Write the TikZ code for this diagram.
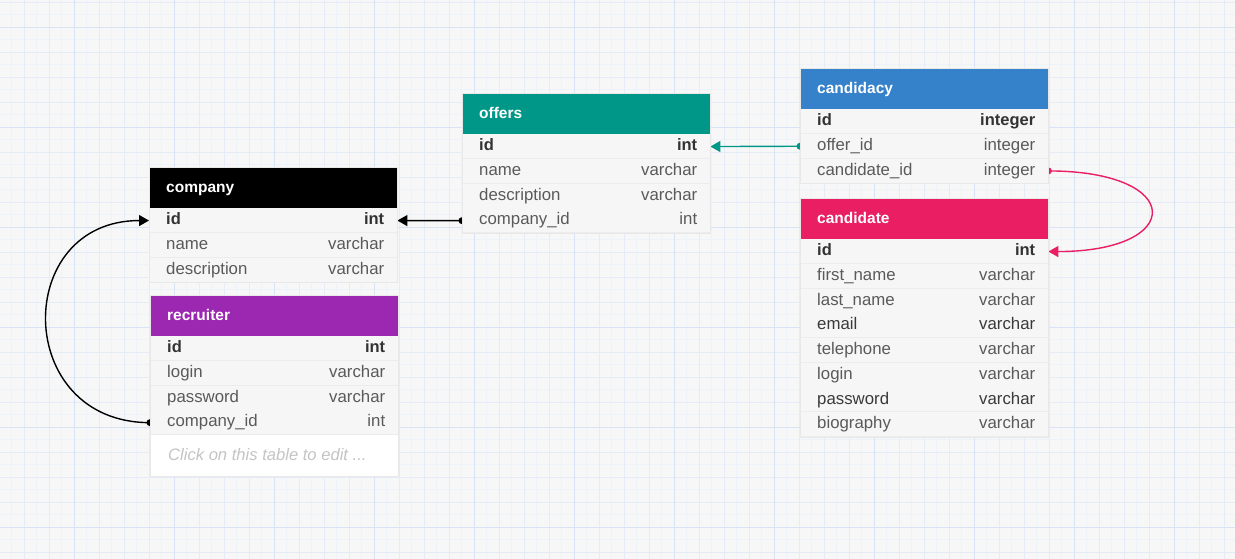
\documentclass[tikz,border=0pt]{standalone}
\usepackage{fontspec}
\setmainfont{Liberation Sans}
\usetikzlibrary{arrows.meta}
\pgfdeclarelayer{gridlayer}
\pgfdeclarelayer{linklayer}
\pgfsetlayers{gridlayer,linklayer,main}
\definecolor{canvas}{HTML}{F7F7F7}
\definecolor{gridfaint}{HTML}{EEF2F9}
\definecolor{gridmid}{HTML}{E5EBF7}
\definecolor{gridmajor}{HTML}{D8E3F6}
\definecolor{rowbg}{HTML}{F6F6F6}
\definecolor{sepcol}{HTML}{ECECEC}
\definecolor{bordercol}{HTML}{E8E8E8}
\definecolor{fieldcol}{HTML}{5A5A5A}
\definecolor{keycol}{HTML}{333333}
\definecolor{darkfield}{HTML}{3A3A3A}
\definecolor{hintcol}{HTML}{C4C4C4}
\definecolor{teal}{HTML}{009688}
\definecolor{purplehdr}{HTML}{9C27B0}
\definecolor{bluehdr}{HTML}{3581CA}
\definecolor{pinkhdr}{HTML}{E91E63}

\newcommand{\erhead}[5]{% id, x, y, colour, title
  \node[hdr, fill=#4] (#1) at (#2,#3) {#5};
}
\newcommand{\errow}[6]{% id, x, y, field, type, text style
  \node[rowbox] (#1) at (#2,#3) {};
  \draw[sep] ([yshift=0.5pt]#1.south west) -- ([yshift=0.5pt]#1.south east);
  \node[fld, #6, anchor=west] (#1-f) at ([xshift=17pt]#1.west) {#4};
  \node[fld, #6, anchor=east] (#1-t) at ([xshift=-13pt]#1.east) {#5};
}

\begin{document}
\begin{tikzpicture}[x=1pt,y=-1pt,
  hdr/.style={rectangle, anchor=north west, inner ysep=0pt, inner xsep=17pt,
    text width=214pt, align=left, minimum height=41pt, text=white,
    text height=12pt, text depth=2pt,
    font=\bfseries\fontsize{15.5}{18}\selectfont},
  rowbox/.style={rectangle, anchor=north west, inner sep=0pt,
    minimum width=248pt, minimum height=24.7pt, fill=rowbg},
  sep/.style={sepcol, line width=0.8pt},
  fld/.style={inner sep=0pt, text height=12pt, text depth=3.5pt,
    font=\fontsize{16.8}{20}\selectfont},
  plain/.style={text=fieldcol},
  dark/.style={text=darkfield},
  key/.style={text=keycol, font=\bfseries\fontsize{16.5}{20}\selectfont},
  tblborder/.style={draw=bordercol, line width=0.6pt},
  lnk/.style={line width=1.4pt, -{Triangle[length=10pt,width=11pt]}},
  taildot/.style={radius=3.5pt}
]
\useasboundingbox (0,0) rectangle (1235,559);

% ---------- grid ----------
\begin{pgfonlayer}{gridlayer}
\fill[canvas] (0,0) rectangle (1235,559);
\foreach \i in {0,...,98}
  \draw[gridfaint, line width=0.8pt] ({11.5+12.5*\i},0) -- ({11.5+12.5*\i},559);
\foreach \i in {0,...,44}
  \draw[gridfaint, line width=0.8pt] (0,{2+12.5*\i}) -- (1235,{2+12.5*\i});
\foreach \i in {0,...,49}
  \draw[gridmid, line width=0.8pt] ({24+25*\i},0) -- ({24+25*\i},559);
\foreach \i in {0,...,22}
  \draw[gridmid, line width=0.8pt] (0,{2+25*\i}) -- (1235,{2+25*\i});
\foreach \i in {0,...,11}
  \draw[gridmajor, line width=0.9pt] ({74+100*\i},0) -- ({74+100*\i},559);
\foreach \i in {0,...,5}
  \draw[gridmajor, line width=0.9pt] (0,{27+100*\i}) -- (1235,{27+100*\i});
\end{pgfonlayer}

% ---------- company ----------
\erhead{company}{149}{167}{black}{company}
\errow{company-id}{149}{208}{id}{int}{key}
\errow{company-name}{149}{232.7}{name}{varchar}{plain}
\errow{company-desc}{149}{257.4}{description}{varchar}{plain}
\draw[tblborder] (company.north west) rectangle (company-desc.south east);

% ---------- recruiter ----------
\erhead{recruiter}{150}{295}{purplehdr}{recruiter}
\errow{recruiter-id}{150}{336}{id}{int}{key}
\errow{recruiter-login}{150}{360.7}{login}{varchar}{plain}
\errow{recruiter-pw}{150}{385.4}{password}{varchar}{plain}
\errow{recruiter-cid}{150}{410.1}{company\_id}{int}{plain}
\node[rectangle, anchor=north west, inner sep=0pt, minimum width=248pt,
  minimum height=41pt, fill=white] (recruiter-hint) at (recruiter-cid.south west) {};
\node[inner sep=0pt, anchor=west, text=hintcol, text height=12pt, text depth=3.5pt,
  font=\itshape\fontsize{16.6}{20}\selectfont] (recruiter-hint-t)
  at ([xshift=18pt]recruiter-hint.west) {Click on this table to edit ...};
\draw[tblborder] (recruiter.north west) rectangle (recruiter-hint.south east);

% ---------- offers ----------
\erhead{offers}{462}{93}{teal}{offers}
\errow{offers-id}{462}{134}{id}{int}{key}
\errow{offers-name}{462}{158.7}{name}{varchar}{plain}
\errow{offers-desc}{462}{183.4}{description}{varchar}{plain}
\errow{offers-cid}{462}{208.1}{company\_id}{int}{plain}
\draw[tblborder] (offers.north west) rectangle (offers-cid.south east);

% ---------- candidacy ----------
\erhead{candidacy}{800}{68}{bluehdr}{candidacy}
\errow{candidacy-id}{800}{109}{id}{integer}{key}
\errow{candidacy-oid}{800}{133.7}{offer\_id}{integer}{plain}
\errow{candidacy-cand}{800}{158.4}{candidate\_id}{integer}{plain}
\draw[tblborder] (candidacy.north west) rectangle (candidacy-cand.south east);

% ---------- candidate ----------
\erhead{candidate}{800}{198}{pinkhdr}{candidate}
\errow{candidate-id}{800}{239}{id}{int}{key}
\errow{candidate-fn}{800}{263.7}{first\_name}{varchar}{plain}
\errow{candidate-ln}{800}{288.4}{last\_name}{varchar}{plain}
\errow{candidate-email}{800}{313.1}{email}{varchar}{dark}
\errow{candidate-tel}{800}{337.8}{telephone}{varchar}{plain}
\errow{candidate-login}{800}{362.5}{login}{varchar}{plain}
\errow{candidate-pw}{800}{387.2}{password}{varchar}{dark}
\errow{candidate-bio}{800}{411.9}{biography}{varchar}{plain}
\draw[tblborder] (candidate.north west) rectangle (candidate-bio.south east);

% ---------- connectors ----------
\begin{pgfonlayer}{linklayer}
\draw[lnk, black] (offers-cid.west) -- (company-id.east);
\fill[black] (offers-cid.west) circle[taildot];
\draw[lnk, teal] (candidacy-oid.west) -- (offers-id.east);
\fill[teal] (candidacy-oid.west) circle[taildot];
\draw[lnk, black] (recruiter-cid.west) .. controls +(-137,0) and +(-137,0) .. (company-id.west);
\fill[black] (recruiter-cid.west) circle[taildot];
\draw[lnk, pinkhdr] (candidacy-cand.east) .. controls +(137,0) and +(137,0) .. (candidate-id.east);
\fill[pinkhdr] (candidacy-cand.east) circle[taildot];
\end{pgfonlayer}
\end{tikzpicture}
\end{document}
